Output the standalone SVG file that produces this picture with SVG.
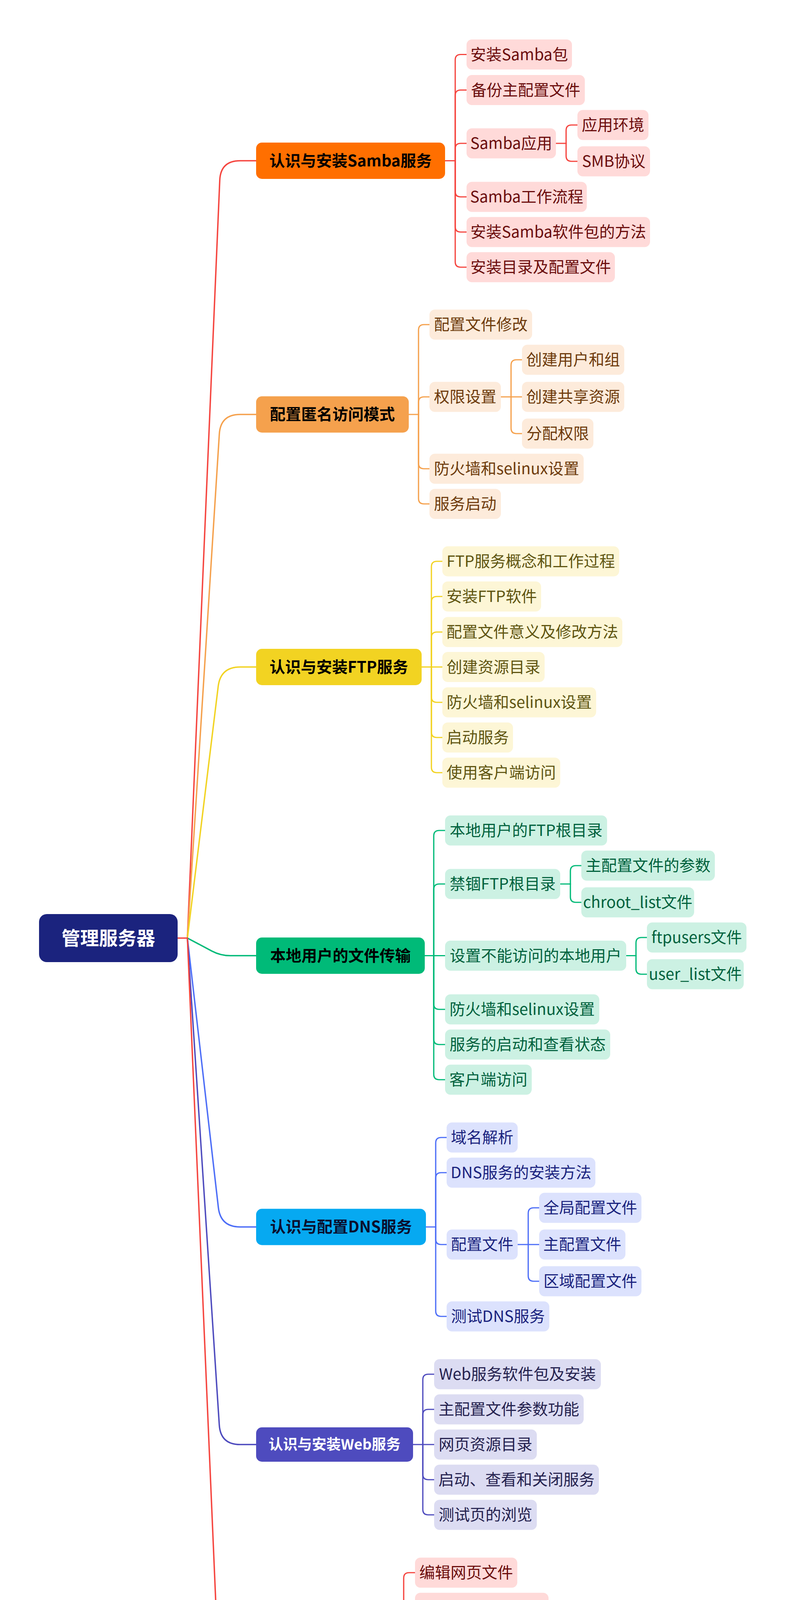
<svg xmlns="http://www.w3.org/2000/svg" width="2044" height="4941" viewBox="0 0 2044 4941">
<style>
text{font-family:"Noto Sans CJK SC","Noto Sans",sans-serif;text-anchor:middle}
.n{font-size:40px}
.m{font-size:40px;font-weight:bold}
.r{font-size:48px;font-weight:bold;fill:#fff}
.cn path{fill:none;stroke-width:3.2;stroke-linecap:round}
.top path{stroke-width:3.6}
.s1{stroke:#F5453F}.s2{stroke:#F5A14D}.s3{stroke:#F2D322}.s4{stroke:#00BA78}.s5{stroke:#4D6EF7}.s6{stroke:#4E4BBE}
.c1{fill:#FFDAD9}.t1{fill:#6B0D0D}
.c2{fill:#FDEBDB}.t2{fill:#6E3B0C}
.c3{fill:#FDF6D6}.t3{fill:#5F5511}
.c4{fill:#CCF1E3}.t4{fill:#00613D}
.c5{fill:#DCE2FD}.t5{fill:#1A237E}
.c6{fill:#DCDCF2}.t6{fill:#25224F}
</style>
<rect width="2044" height="4941" fill="#ffffff"/>
<g id="connectors" class="cn">
<g class="top">
<path class="s1" d="M455 2401.5 H480"/>
<path class="s1" d="M480 2401.5 L562.9 461.5 Q565 411.5 615 411.5 H656"/>
<path class="s2" d="M480 2401.5 L561.8 1110.9 Q565 1061 615 1061 H656"/>
<path class="s3" d="M480 2401.5 L558.9 1757.1 Q565 1707.5 615 1707.5 H656"/>
<path class="s4" d="M480 2401.5 L542.9 2434.8 Q565 2446.5 590 2446.5 H656"/>
<path class="s5" d="M480 2401.5 L559.3 3091.3 Q565 3141 615 3141 H656"/>
<path class="s6" d="M480 2401.5 L561.7 3648.1 Q565 3698 615 3698 H656"/>
<path class="s1" d="M480 2401.5 L562.9 4341.6 Q565 4391.5 615 4391.5 H656"/>
</g>
<g class="s1">
<path d="M1140 411.5 H1166"/>
<path d="M1166 411.5 V153.5 Q1166 139.5 1180 139.5 H1195"/>
<path d="M1166 411.5 V244.5 Q1166 230.5 1180 230.5 H1195"/>
<path d="M1166 411.5 V381 Q1166 367 1180 367 H1195"/>
<path d="M1166 411.5 V490 Q1166 504 1180 504 H1195"/>
<path d="M1166 411.5 V580 Q1166 594 1180 594 H1195"/>
<path d="M1166 411.5 V670 Q1166 684 1180 684 H1195"/>
<path d="M1424 367 H1450"/>
<path d="M1450 367 V334 Q1450 320 1464 320 H1479"/>
<path d="M1450 367 V399 Q1450 413 1464 413 H1479"/>
</g>
<g class="s2">
<path d="M1047 1061 H1072"/>
<path d="M1072 1061 V845 Q1072 831 1086 831 H1100"/>
<path d="M1072 1061 V1030 Q1072 1016 1086 1016 H1100"/>
<path d="M1072 1061 V1186 Q1072 1200 1086 1200 H1100"/>
<path d="M1072 1061 V1276 Q1072 1290 1086 1290 H1100"/>
<path d="M1283 1016 H1337"/>
<path d="M1309 1016 V935 Q1309 921 1323 921 H1337"/>
<path d="M1309 1016 V1096 Q1309 1110 1323 1110 H1337"/>
</g>
<g class="s3">
<path d="M1080 1707.5 H1133"/>
<path d="M1105 1707.5 V1451 Q1105 1437 1119 1437 H1133"/>
<path d="M1105 1707.5 V1541 Q1105 1527 1119 1527 H1133"/>
<path d="M1105 1707.5 V1632 Q1105 1618 1119 1618 H1133"/>
<path d="M1105 1707.5 V1784 Q1105 1798 1119 1798 H1133"/>
<path d="M1105 1707.5 V1874 Q1105 1888 1119 1888 H1133"/>
<path d="M1105 1707.5 V1964 Q1105 1978 1119 1978 H1133"/>
</g>
<g class="s4">
<path d="M1088 2446.5 H1140"/>
<path d="M1111 2446.5 V2140 Q1111 2126 1125 2126 H1140"/>
<path d="M1111 2446.5 V2277 Q1111 2263 1125 2263 H1140"/>
<path d="M1111 2446.5 V2570 Q1111 2584 1125 2584 H1140"/>
<path d="M1111 2446.5 V2660 Q1111 2674 1125 2674 H1140"/>
<path d="M1111 2446.5 V2750 Q1111 2764 1125 2764 H1140"/>
<path d="M1435 2263 H1461"/>
<path d="M1461 2263 V2230 Q1461 2216 1475 2216 H1489"/>
<path d="M1461 2263 V2296 Q1461 2310 1475 2310 H1489"/>
<path d="M1604 2446.5 H1629"/>
<path d="M1629 2446.5 V2414 Q1629 2400 1643 2400 H1657"/>
<path d="M1629 2446.5 V2480 Q1629 2494 1643 2494 H1657"/>
</g>
<g class="s5">
<path d="M1091 3141 H1116"/>
<path d="M1116 3141 V2926 Q1116 2912 1130 2912 H1144"/>
<path d="M1116 3141 V3016 Q1116 3002 1130 3002 H1144"/>
<path d="M1116 3141 V3172 Q1116 3186 1130 3186 H1144"/>
<path d="M1116 3141 V3356 Q1116 3370 1130 3370 H1144"/>
<path d="M1326 3186 H1381"/>
<path d="M1353 3186 V3106 Q1353 3092 1367 3092 H1381"/>
<path d="M1353 3186 V3266 Q1353 3280 1367 3280 H1381"/>
</g>
<g class="s6">
<path d="M1058 3698 H1112"/>
<path d="M1083 3698 V3532 Q1083 3518 1097 3518 H1112"/>
<path d="M1083 3698 V3622 Q1083 3608 1097 3608 H1112"/>
<path d="M1083 3698 V3774 Q1083 3788 1097 3788 H1112"/>
<path d="M1083 3698 V3864 Q1083 3878 1097 3878 H1112"/>
</g>
<g class="s1">
<path d="M1010 4391.5 H1034"/>
<path d="M1034 4391.5 V4040 Q1034 4026 1048 4026 H1063"/>
<path d="M1034 4391.5 V4130 Q1034 4116 1048 4116 H1063"/>
<path d="M1034 4391.5 V4361 Q1034 4347 1048 4347 H1063"/>
<path d="M1034 4391.5 V4564 Q1034 4578 1048 4578 H1063"/>
<path d="M1034 4391.5 V4655 Q1034 4669 1048 4669 H1063"/>
<path d="M1034 4391.5 V4744 Q1034 4758 1048 4758 H1063"/>
<path d="M1588 4347 H1612"/>
<path d="M1612 4347 V4220 Q1612 4206 1626 4206 H1641"/>
<path d="M1612 4347 V4314 Q1612 4300 1626 4300 H1641"/>
<path d="M1612 4347 V4380 Q1612 4394 1626 4394 H1641"/>
<path d="M1612 4347 V4474 Q1612 4488 1626 4488 H1641"/>
</g>
</g>

<g id="root"><rect x="100" y="2340" width="355" height="123" rx="20" fill="#1B237E"/><text class="r" x="277.5" y="2418.5">管理服务器</text></g>

<g id="samba"><rect x="656" y="365" width="484" height="93" rx="15" fill="#FF6F00"/><text class="m" x="898" y="425.5" fill="#000">认识与安装Samba服务</text></g>
<g id="samba-1"><rect class="c1" x="1195" y="101" width="270" height="77" rx="14"/><text class="n t1" x="1330" y="153.5">安装Samba包</text></g>
<g id="samba-2"><rect class="c1" x="1195" y="192" width="303" height="77" rx="14"/><text class="n t1" x="1346.5" y="244.5">备份主配置文件</text></g>
<g id="samba-3"><rect class="c1" x="1195" y="328.5" width="229" height="77" rx="14"/><text class="n t1" x="1309.5" y="381">Samba应用</text></g>
<g id="samba-3-1"><rect class="c1" x="1479" y="281.5" width="182" height="77" rx="14"/><text class="n t1" x="1570" y="334">应用环境</text></g>
<g id="samba-3-2"><rect class="c1" x="1479" y="374.5" width="186" height="77" rx="14"/><text class="n t1" x="1572" y="427">SMB协议</text></g>
<g id="samba-4"><rect class="c1" x="1195" y="465.5" width="308" height="77" rx="14"/><text class="n t1" x="1349" y="518">Samba工作流程</text></g>
<g id="samba-5"><rect class="c1" x="1195" y="555.5" width="470" height="77" rx="14"/><text class="n t1" x="1430" y="608">安装Samba软件包的方法</text></g>
<g id="samba-6"><rect class="c1" x="1195" y="645.5" width="380" height="77" rx="14"/><text class="n t1" x="1385" y="698">安装目录及配置文件</text></g>

<g id="anon"><rect x="656" y="1014.5" width="391" height="93" rx="15" fill="#F5A14D"/><text class="m" x="851.5" y="1075" fill="#000">配置匿名访问模式</text></g>
<g id="anon-1"><rect class="c2" x="1100" y="792.5" width="263" height="77" rx="14"/><text class="n t2" x="1231.5" y="845">配置文件修改</text></g>
<g id="anon-2"><rect class="c2" x="1100" y="977.5" width="183" height="77" rx="14"/><text class="n t2" x="1191.5" y="1030">权限设置</text></g>
<g id="anon-2-1"><rect class="c2" x="1337" y="882.5" width="262" height="77" rx="14"/><text class="n t2" x="1468" y="935">创建用户和组</text></g>
<g id="anon-2-2"><rect class="c2" x="1337" y="977.5" width="262" height="77" rx="14"/><text class="n t2" x="1468" y="1030">创建共享资源</text></g>
<g id="anon-2-3"><rect class="c2" x="1337" y="1071.5" width="183" height="77" rx="14"/><text class="n t2" x="1428.5" y="1124">分配权限</text></g>
<g id="anon-3"><rect class="c2" x="1100" y="1161.5" width="395" height="77" rx="14"/><text class="n t2" x="1297.5" y="1214">防火墙和selinux设置</text></g>
<g id="anon-4"><rect class="c2" x="1100" y="1251.5" width="183" height="77" rx="14"/><text class="n t2" x="1191.5" y="1304">服务启动</text></g>

<g id="ftp"><rect x="656" y="1661" width="424" height="93" rx="15" fill="#F2D322"/><text class="m" x="868" y="1721.5" fill="#000">认识与安装FTP服务</text></g>
<g id="ftp-1"><rect class="c3" x="1133" y="1398.5" width="453" height="77" rx="14"/><text class="n t3" x="1359.5" y="1451">FTP服务概念和工作过程</text></g>
<g id="ftp-2"><rect class="c3" x="1133" y="1488.5" width="253" height="77" rx="14"/><text class="n t3" x="1259.5" y="1541">安装FTP软件</text></g>
<g id="ftp-3"><rect class="c3" x="1133" y="1579.5" width="461" height="77" rx="14"/><text class="n t3" x="1363.5" y="1632">配置文件意义及修改方法</text></g>
<g id="ftp-4"><rect class="c3" x="1133" y="1669" width="262" height="77" rx="14"/><text class="n t3" x="1264" y="1721.5">创建资源目录</text></g>
<g id="ftp-5"><rect class="c3" x="1133" y="1759.5" width="394" height="77" rx="14"/><text class="n t3" x="1330" y="1812">防火墙和selinux设置</text></g>
<g id="ftp-6"><rect class="c3" x="1133" y="1849.5" width="181" height="77" rx="14"/><text class="n t3" x="1223.5" y="1902">启动服务</text></g>
<g id="ftp-7"><rect class="c3" x="1133" y="1939.5" width="302" height="77" rx="14"/><text class="n t3" x="1284" y="1992">使用客户端访问</text></g>

<g id="local"><rect x="656" y="2400" width="432" height="93" rx="15" fill="#00BA78"/><text class="m" x="872" y="2460.5" fill="#000">本地用户的文件传输</text></g>
<g id="local-1"><rect class="c4" x="1140" y="2087.5" width="415" height="77" rx="14"/><text class="n t4" x="1347.5" y="2140">本地用户的FTP根目录</text></g>
<g id="local-2"><rect class="c4" x="1140" y="2224.5" width="295" height="77" rx="14"/><text class="n t4" x="1287.5" y="2277">禁锢FTP根目录</text></g>
<g id="local-2-1"><rect class="c4" x="1489" y="2177.5" width="342" height="77" rx="14"/><text class="n t4" x="1660" y="2230">主配置文件的参数</text></g>
<g id="local-2-2"><rect class="c4" x="1489" y="2271.5" width="289" height="77" rx="14"/><text class="n t4" x="1633.5" y="2324">chroot_list文件</text></g>
<g id="local-3"><rect class="c4" x="1140" y="2408" width="464" height="77" rx="14"/><text class="n t4" x="1372" y="2460.5">设置不能访问的本地用户</text></g>
<g id="local-3-1"><rect class="c4" x="1657" y="2361.5" width="255" height="77" rx="14"/><text class="n t4" x="1784.5" y="2414">ftpusers文件</text></g>
<g id="local-3-2"><rect class="c4" x="1657" y="2455.5" width="248" height="77" rx="14"/><text class="n t4" x="1781" y="2508">user_list文件</text></g>
<g id="local-4"><rect class="c4" x="1140" y="2545.5" width="395" height="77" rx="14"/><text class="n t4" x="1337.5" y="2598">防火墙和selinux设置</text></g>
<g id="local-5"><rect class="c4" x="1140" y="2635.5" width="423" height="77" rx="14"/><text class="n t4" x="1351.5" y="2688">服务的启动和查看状态</text></g>
<g id="local-6"><rect class="c4" x="1140" y="2725.5" width="222" height="77" rx="14"/><text class="n t4" x="1251" y="2778">客户端访问</text></g>

<g id="dns"><rect x="656" y="3094.5" width="435" height="93" rx="15" fill="#06A9F1"/><text class="m" x="873.5" y="3155" fill="#0A0F2E">认识与配置DNS服务</text></g>
<g id="dns-1"><rect class="c5" x="1144" y="2873.5" width="182" height="77" rx="14"/><text class="n t5" x="1235" y="2926">域名解析</text></g>
<g id="dns-2"><rect class="c5" x="1144" y="2963.5" width="381" height="77" rx="14"/><text class="n t5" x="1334.5" y="3016">DNS服务的安装方法</text></g>
<g id="dns-3"><rect class="c5" x="1144" y="3147.5" width="182" height="77" rx="14"/><text class="n t5" x="1235" y="3200">配置文件</text></g>
<g id="dns-3-1"><rect class="c5" x="1381" y="3053.5" width="262" height="77" rx="14"/><text class="n t5" x="1512" y="3106">全局配置文件</text></g>
<g id="dns-3-2"><rect class="c5" x="1381" y="3147.5" width="221" height="77" rx="14"/><text class="n t5" x="1491.5" y="3200">主配置文件</text></g>
<g id="dns-3-3"><rect class="c5" x="1381" y="3241.5" width="262" height="77" rx="14"/><text class="n t5" x="1512" y="3294">区域配置文件</text></g>
<g id="dns-4"><rect class="c5" x="1144" y="3331.5" width="263" height="77" rx="14"/><text class="n t5" x="1275.5" y="3384">测试DNS服务</text></g>

<g id="web"><rect x="656" y="3654" width="402" height="88" rx="15" fill="#4E4BBE"/><text class="m" x="857" y="3711" fill="#fff" style="font-size:37px">认识与安装Web服务</text></g>
<g id="web-1"><rect class="c6" x="1112" y="3479.5" width="427" height="77" rx="14"/><text class="n t6" x="1325.5" y="3532">Web服务软件包及安装</text></g>
<g id="web-2"><rect class="c6" x="1112" y="3569.5" width="383" height="77" rx="14"/><text class="n t6" x="1303.5" y="3622">主配置文件参数功能</text></g>
<g id="web-3"><rect class="c6" x="1112" y="3659.5" width="263" height="77" rx="14"/><text class="n t6" x="1243.5" y="3712">网页资源目录</text></g>
<g id="web-4"><rect class="c6" x="1112" y="3749.5" width="422" height="77" rx="14"/><text class="n t6" x="1323" y="3802">启动、查看和关闭服务</text></g>
<g id="web-5"><rect class="c6" x="1112" y="3839.5" width="263" height="77" rx="14"/><text class="n t6" x="1243.5" y="3892">测试页的浏览</text></g>

<g id="cfgweb"><rect x="656" y="4345" width="354" height="93" rx="15" fill="#EA8BBD"/><text class="m" x="833" y="4405.5" fill="#15123F">配置web服务器</text></g>
<g id="cfgweb-1"><rect class="c1" x="1063" y="3987.5" width="262" height="77" rx="14"/><text class="n t1" x="1194" y="4040">编辑网页文件</text></g>
<g id="cfgweb-2"><rect class="c1" x="1063" y="4077.5" width="342" height="77" rx="14"/><text class="n t1" x="1234" y="4130">网页资源目录权限</text></g>
<g id="cfgweb-3"><rect class="c1" x="1063" y="4308.5" width="525" height="77" rx="14"/><text class="n t1" x="1325.5" y="4361">常规Apache服务器配置方法</text></g>
<g id="cfgweb-3-1"><rect class="c1" x="1641" y="4167.5" width="222" height="77" rx="14"/><text class="n t1" x="1752" y="4220">根目录设置</text></g>
<g id="cfgweb-3-2"><rect class="c1" x="1641" y="4261.5" width="183" height="77" rx="14"/><text class="n t1" x="1732.5" y="4314">超时设置</text></g>
<g id="cfgweb-3-3"><rect class="c1" x="1641" y="4355.5" width="301" height="77" rx="14"/><text class="n t1" x="1791.5" y="4408">客户连接数限制</text></g>
<g id="cfgweb-3-4"><rect class="c1" x="1641" y="4449.5" width="262" height="77" rx="14"/><text class="n t1" x="1772" y="4502">网页编码设置</text></g>
<g id="cfgweb-4"><rect class="c1" x="1063" y="4539.5" width="393" height="77" rx="14"/><text class="n t1" x="1259.5" y="4592">防火墙和selinux设置</text></g>
<g id="cfgweb-5"><rect class="c1" x="1063" y="4630.5" width="182" height="77" rx="14"/><text class="n t1" x="1154" y="4683">启动服务</text></g>
<g id="cfgweb-6"><rect class="c1" x="1063" y="4719.5" width="426" height="77" rx="14"/><text class="n t1" x="1276" y="4772">客户端访问Web服务器</text></g>
</svg>
